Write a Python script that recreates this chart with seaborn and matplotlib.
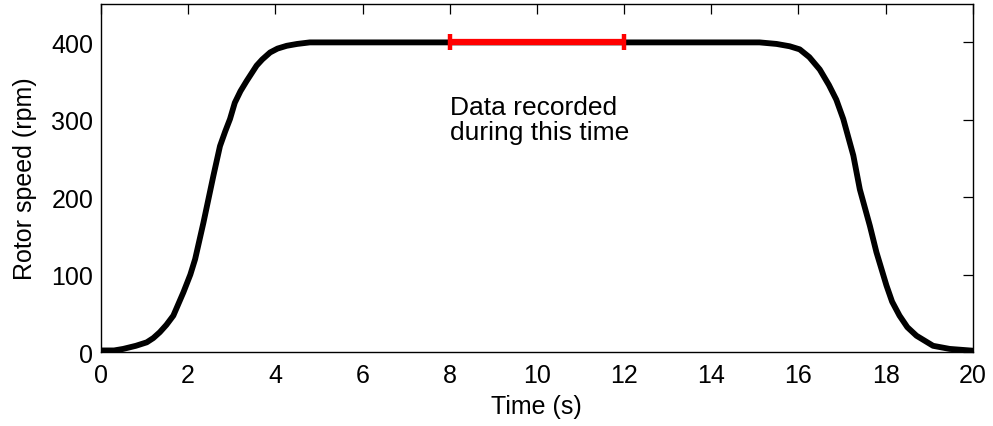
import numpy as np
import pandas as pd
import seaborn as sns
import matplotlib.pyplot as plt

# rotor speed profile
time_s = [0.0, 0.3, 0.51, 0.8, 1.05, 1.2, 1.35, 1.5, 1.66, 1.89, 2.05, 2.16,
          2.35, 2.58, 2.73, 2.85, 2.96, 3.07, 3.2, 3.34, 3.57, 3.7, 3.88,
          4.05, 4.26, 4.5, 4.79, 8.0, 12.0, 15.11, 15.5, 15.8, 16.03, 16.25,
          16.49, 16.7, 16.87, 17.03, 17.26, 17.41, 17.64, 17.79, 18.02,
          18.15, 18.32, 18.5, 18.71, 19.09, 19.47, 20.0]
speed_rpm = [2, 2, 4, 8, 12.5, 18, 25.6, 35, 47, 77, 100, 120,
             167, 228, 266, 285, 301, 322, 337, 350, 370, 378, 387,
             392, 395.6, 398, 400, 400, 400, 400, 398, 395, 391, 381,
             365, 345, 326, 301, 254, 210, 163, 129, 86,
             65, 47, 32, 21, 8, 4, 1.7]

# recording window
rec_time = [8, 12]
rec_speed = [400, 400]

xticks = [0, 2, 4, 6, 8, 10, 12, 14, 16, 18, 20]
yticks = [0, 100, 200, 300, 400]

df = pd.DataFrame({"time": time_s, "speed": speed_rpm})

sns.set_theme(style="white")
plt.rcParams['font.family'] = ['Liberation Sans', 'DejaVu Sans']

fig = plt.figure(figsize=(9.93, 4.27), dpi=100)
ax = fig.add_axes([0.1017, 0.1733, 0.9796 - 0.1017, 0.989 - 0.1733])

sns.lineplot(data=df, x="time", y="speed", color="black", linewidth=4.2, ax=ax)
ax.plot(rec_time, rec_speed, color="red", linewidth=4.5, solid_capstyle="butt",
        marker="|", markersize=12, markeredgewidth=3.2, zorder=3)

ax.text(8, 332, "Data recorded\nduring this time", fontsize=19, ha="left", va="top",
        linespacing=1.07, color="black")

ax.set_xlim(0, 20)
ax.set_ylim(0, 450)
ax.set_xticks(xticks)
ax.set_yticks(yticks)
ax.set_xlabel("Time (s)", fontsize=18, labelpad=5, color="black")
ax.set_ylabel("Rotor speed (rpm)", fontsize=18, labelpad=10, color="black")
ax.tick_params(axis="both", direction="in", length=7, width=0.9, top=True, right=True,
               labelsize=18, colors="black")
ax.tick_params(axis="x", pad=8)
ax.tick_params(axis="y", pad=5.5)
for s in ax.spines.values():
    s.set_color("black")
    s.set_linewidth(1.0)

fig.savefig("out.png", dpi=100)
